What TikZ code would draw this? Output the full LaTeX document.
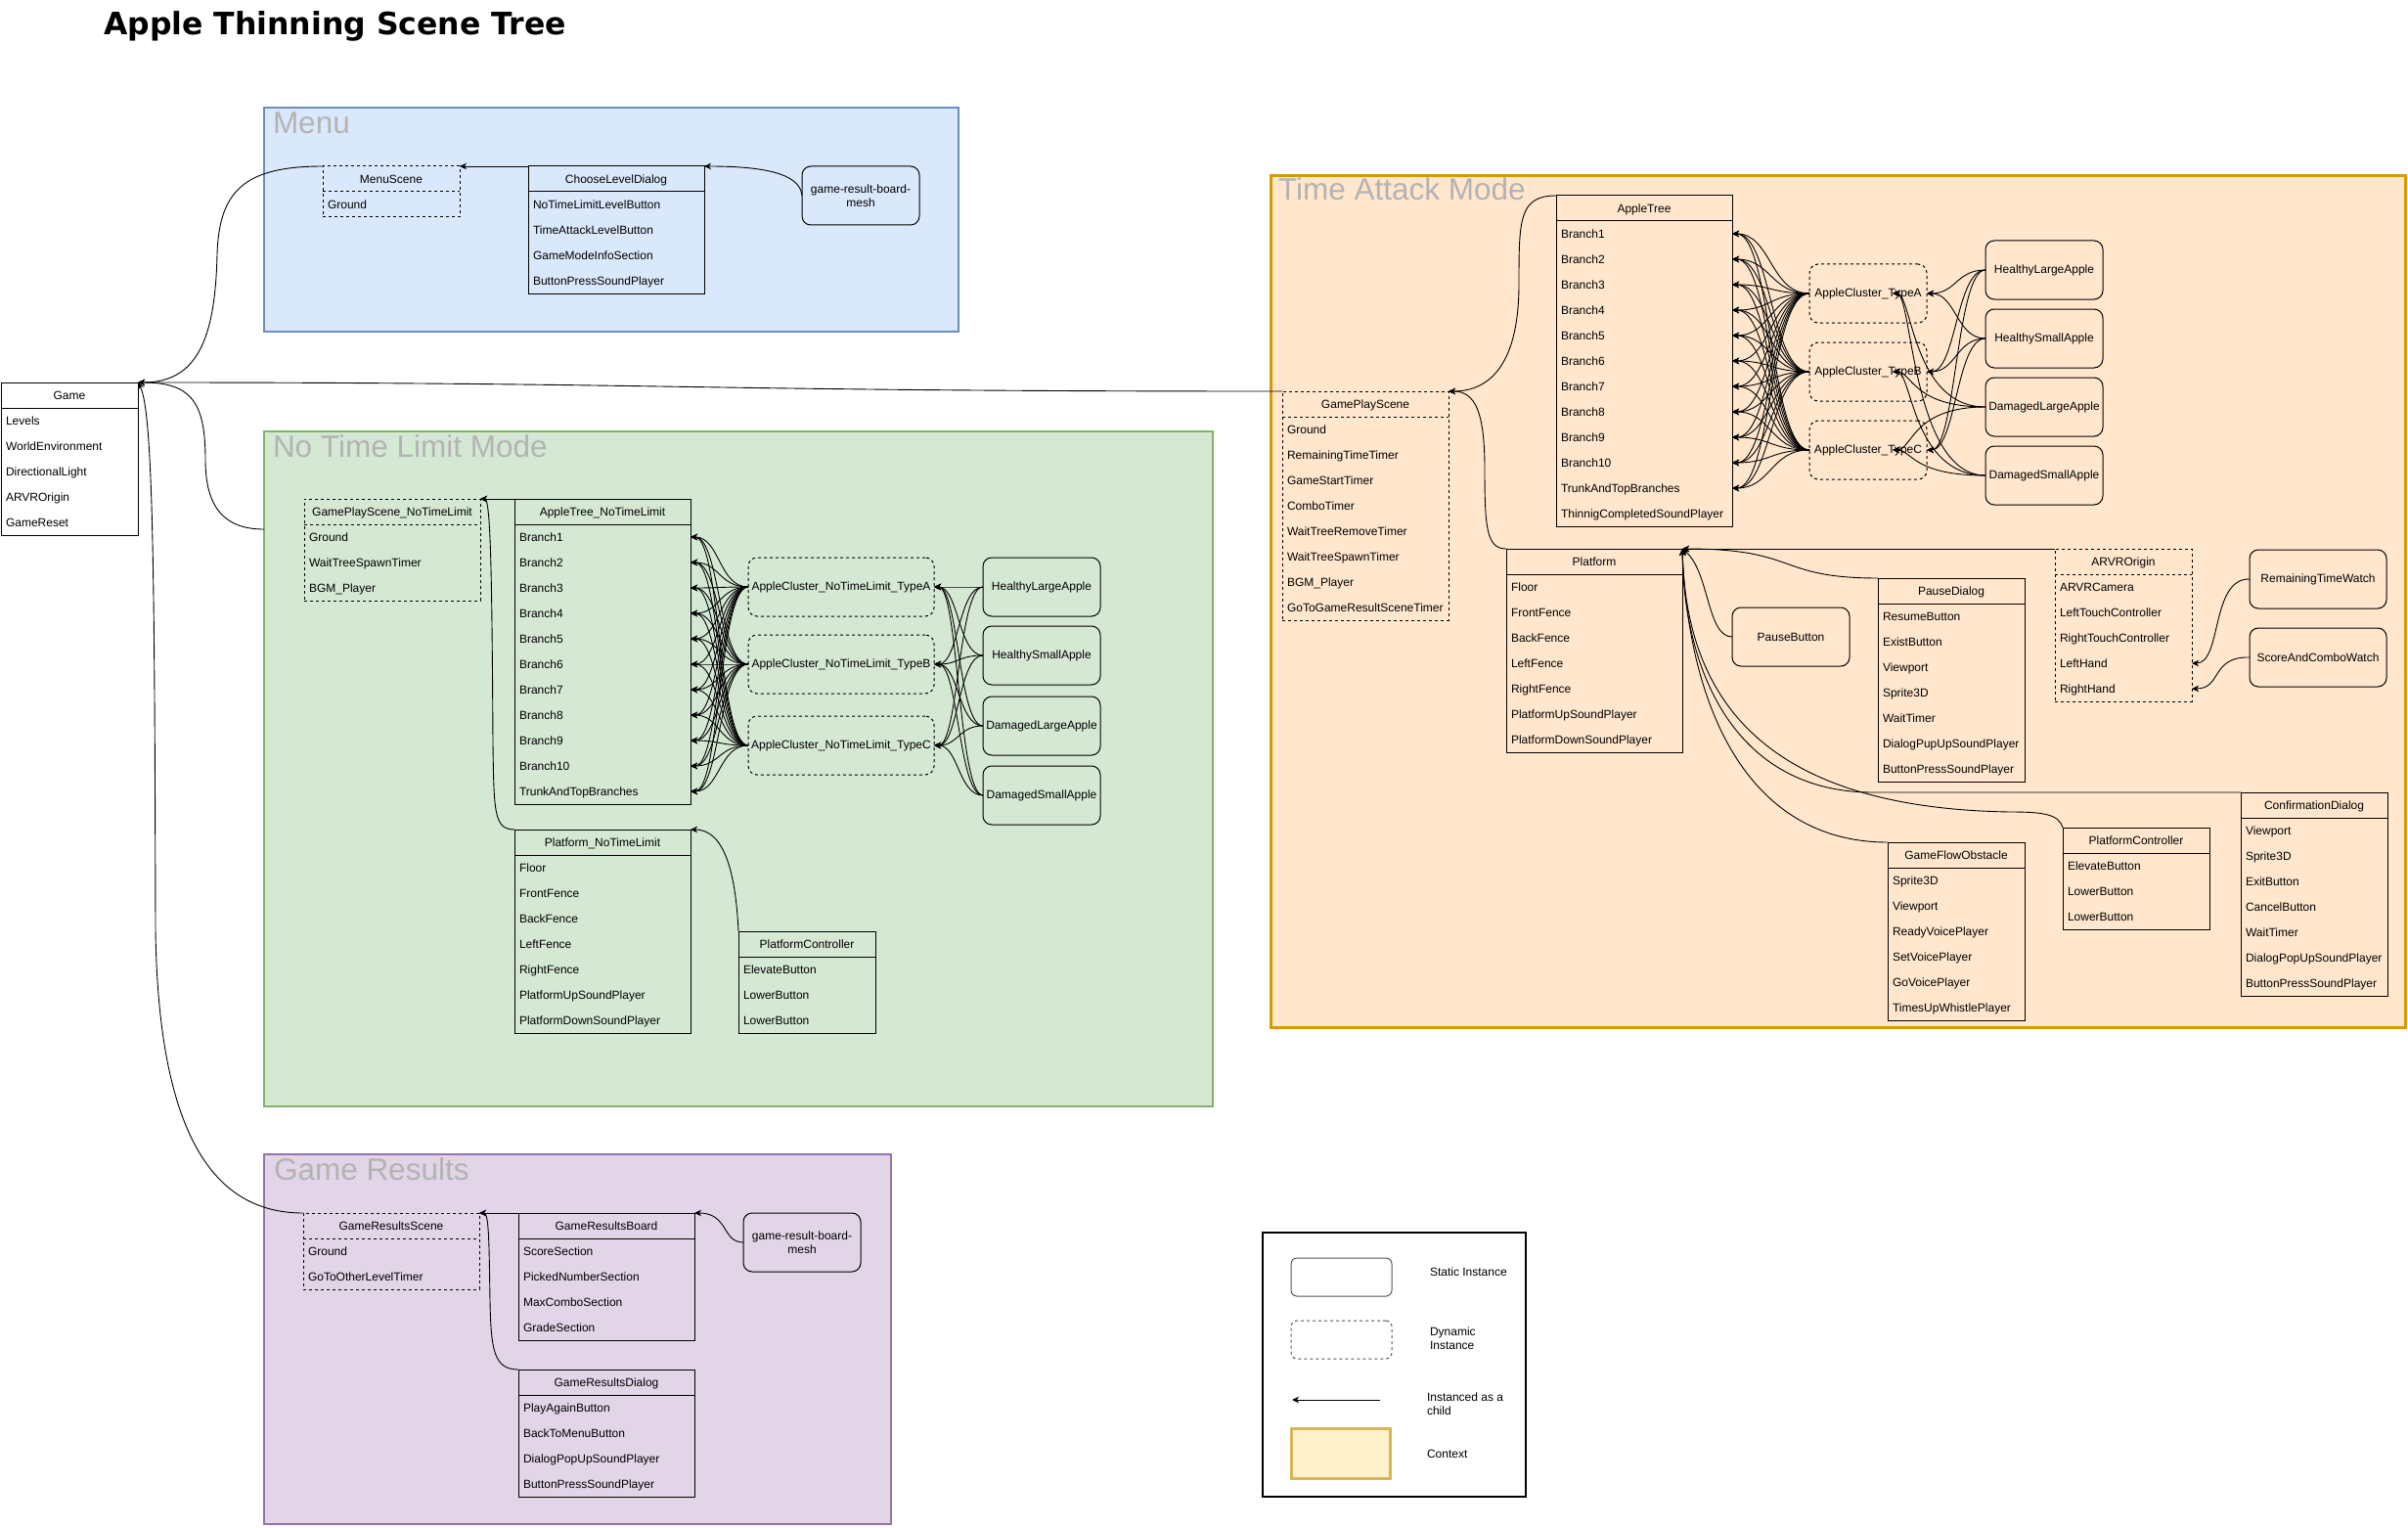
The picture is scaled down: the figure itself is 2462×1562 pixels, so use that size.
\documentclass[tikz,border=0pt]{standalone}
\usepackage{fontspec}
\setmainfont{Liberation Sans}
\newfontfamily\titlefont{DejaVu Sans}
\usetikzlibrary{arrows.meta}
\definecolor{menufill}{HTML}{DAE8FC}\definecolor{menudraw}{HTML}{6C8EBF}
\definecolor{ntlfill}{HTML}{D5E8D4}\definecolor{ntldraw}{HTML}{82B366}
\definecolor{tafill}{HTML}{FFE6CC}\definecolor{tadraw}{HTML}{D79B00}
\definecolor{grfill}{HTML}{E1D5E7}\definecolor{grdraw}{HTML}{9673A6}
\definecolor{ctxfill}{HTML}{FFF2CC}\definecolor{ctxdraw}{HTML}{D6B656}
\definecolor{ctitlegray}{HTML}{B3B3B3}
\definecolor{leggray}{HTML}{555555}
\tikzset{
  boxframe/.style={draw=black, line width=1pt, inner sep=0pt, outer sep=0pt},
  dsh/.style={dash pattern=on 3pt off 3pt},
  rowtxt/.style={inner sep=0pt, outer sep=0pt, text height=8.6pt, text depth=0pt, font=\fontsize{12}{14}\selectfont},
  rbox/.style={draw=black, line width=1pt, rounded corners=9pt, inner sep=0pt, outer sep=0pt, align=center, anchor=north west, font=\fontsize{12}{14}\selectfont},
  arr/.style={-{Stealth[length=7pt,width=6.5pt,inset=2pt]}, line width=0.9pt},
  cont/.style={inner sep=0pt, outer sep=0pt, anchor=north west},
  ctitle/.style={anchor=base west, inner sep=0pt, outer sep=0pt, text=ctitlegray, font=\fontsize{31.5}{36}\selectfont},
  legtxt/.style={inner sep=0pt, outer sep=0pt, anchor=west, align=left, font=\fontsize{12}{14}\selectfont},
}
% #1 style, #2 name, #3 x, #4 y, #5 width, #6 rows, #7 title, #8 items
\newcommand\listbox[8]{%
  \node[boxframe,#1,minimum width=#5pt,minimum height={(#6+1)*26pt},anchor=north west] (#2) at (#3,#4) {};
  \draw[line width=1pt,#1] ({#3},{#4+26}) -- ({#3+#5},{#4+26});
  \node[rowtxt,anchor=center] (#2-t) at ({#3+#5/2},{#4+13}) {#7};
  \foreach \itm [count=\k] in {#8} {%
    \node[rowtxt,anchor=west] (#2-\k) at ({#3+5},{#4+13+26*\k}) {\itm};
    \coordinate (#2-r\k) at ({#3+#5},{#4+13+26*\k});
  }%
}
\begin{document}
\begin{tikzpicture}[x=1pt,y=-1pt]
\fill[white] (0,0) rectangle (2462,1562);
\useasboundingbox (0,0) rectangle (2462,1562);

% title
\node[inner sep=0pt, anchor=base west, font=\titlefont\bfseries\fontsize{31.5}{36}\selectfont] (title) at (106,36) {Apple Thinning Scene Tree};

% containers
\node[cont, fill=menufill, draw=menudraw, line width=1.3pt, minimum width=710pt, minimum height=229pt] (menu) at (270,110) {};
\node[ctitle] (menu-l) at (279,137) {Menu};
\node[cont, fill=ntlfill, draw=ntldraw, line width=2.5pt, minimum width=970pt, minimum height=690pt] (ntl) at (270,441) {};
\node[ctitle] (ntl-l) at (279,467) {No Time Limit Mode};
\node[cont, fill=tafill, draw=tadraw, line width=3pt, minimum width=1160pt, minimum height=870pt] (ta) at (1299,180) {};
\node[ctitle] (ta-l) at (1307,205) {Time Attack Mode};
\node[cont, fill=grfill, draw=grdraw, line width=2.5pt, minimum width=641pt, minimum height=378pt] (gr) at (270,1180) {};
\node[ctitle] (gr-l) at (280,1206) {Game Results};

% Game
\listbox{}{game}{1}{391}{140}{5}{Game}{Levels,WorldEnvironment,DirectionalLight,ARVROrigin,GameReset}

% Menu
\listbox{dsh}{menuscene}{330}{170}{140}{1}{MenuScene}{Ground}
\listbox{}{choose}{540}{170}{180}{4}{ChooseLevelDialog}{NoTimeLimitLevelButton,TimeAttackLevelButton,GameModeInfoSection,ButtonPressSoundPlayer}
\node[rbox, minimum width=120pt, minimum height=60pt] (menumesh) at (820,170) {game-result-board-\\mesh};

% No time limit
\listbox{dsh}{gpsntl}{311}{510}{180}{3}{GamePlayScene\_NoTimeLimit}{Ground,WaitTreeSpawnTimer,BGM\_Player}
\listbox{}{atntl}{526}{510}{180}{11}{AppleTree\_NoTimeLimit}{Branch1,Branch2,Branch3,Branch4,Branch5,Branch6,Branch7,Branch8,Branch9,Branch10,TrunkAndTopBranches}
\listbox{}{platntl}{526}{848}{180}{7}{Platform\_NoTimeLimit}{Floor,FrontFence,BackFence,LeftFence,RightFence,PlatformUpSoundPlayer,PlatformDownSoundPlayer}
\listbox{}{pcntl}{755}{952}{140}{3}{PlatformController}{ElevateButton,LowerButton,LowerButton}
\node[rbox, dsh, minimum width=190pt, minimum height=60pt] (ntlcA) at (765,570) {AppleCluster\_NoTimeLimit\_TypeA};
\node[rbox, dsh, minimum width=190pt, minimum height=60pt] (ntlcB) at (765,649) {AppleCluster\_NoTimeLimit\_TypeB};
\node[rbox, dsh, minimum width=190pt, minimum height=60pt] (ntlcC) at (765,732) {AppleCluster\_NoTimeLimit\_TypeC};
\node[rbox, minimum width=120pt, minimum height=60pt] (ntlhla) at (1005,570) {HealthyLargeApple};
\node[rbox, minimum width=120pt, minimum height=60pt] (ntlhsa) at (1005,640) {HealthySmallApple};
\node[rbox, minimum width=120pt, minimum height=60pt] (ntldla) at (1005,712) {DamagedLargeApple};
\node[rbox, minimum width=120pt, minimum height=60pt] (ntldsa) at (1005,783) {DamagedSmallApple};
\coordinate (ntlin) at (270,541);

% Game results
\listbox{dsh}{grscene}{310}{1240}{180}{2}{GameResultsScene}{Ground,GoToOtherLevelTimer}
\listbox{}{grboard}{530}{1240}{180}{4}{GameResultsBoard}{ScoreSection,PickedNumberSection,MaxComboSection,GradeSection}
\listbox{}{grdialog}{530}{1400}{180}{4}{GameResultsDialog}{PlayAgainButton,BackToMenuButton,DialogPopUpSoundPlayer,ButtonPressSoundPlayer}
\node[rbox, minimum width=120pt, minimum height=60pt] (grmesh) at (760,1240) {game-result-board-\\mesh};

% Time attack
\listbox{dsh}{gps}{1311}{400}{170}{8}{GamePlayScene}{Ground,RemainingTimeTimer,GameStartTimer,ComboTimer,WaitTreeRemoveTimer,WaitTreeSpawnTimer,BGM\_Player,GoToGameResultSceneTimer}
\listbox{}{tat}{1591}{200}{180}{12}{AppleTree}{Branch1,Branch2,Branch3,Branch4,Branch5,Branch6,Branch7,Branch8,Branch9,Branch10,TrunkAndTopBranches,ThinnigCompletedSoundPlayer}
\node[rbox, dsh, minimum width=120pt, minimum height=60pt] (tacA) at (1850,270) {AppleCluster\_TypeA};
\node[rbox, dsh, minimum width=120pt, minimum height=60pt] (tacB) at (1850,350) {AppleCluster\_TypeB};
\node[rbox, dsh, minimum width=120pt, minimum height=60pt] (tacC) at (1850,430) {AppleCluster\_TypeC};
\node[rbox, minimum width=120pt, minimum height=60pt] (tahla) at (2030,246) {HealthyLargeApple};
\node[rbox, minimum width=120pt, minimum height=60pt] (tahsa) at (2030,316) {HealthySmallApple};
\node[rbox, minimum width=120pt, minimum height=60pt] (tadla) at (2030,386) {DamagedLargeApple};
\node[rbox, minimum width=120pt, minimum height=60pt] (tadsa) at (2030,456) {DamagedSmallApple};
\coordinate (inA) at (1935,300);
\coordinate (inB) at (1935,380);
\coordinate (inC) at (1935,460);
\listbox{}{taplat}{1540}{561}{180}{7}{Platform}{Floor,FrontFence,BackFence,LeftFence,RightFence,PlatformUpSoundPlayer,PlatformDownSoundPlayer}
\node[rbox, minimum width=120pt, minimum height=60pt] (pausebtn) at (1771,621) {PauseButton};
\listbox{}{pausedlg}{1920}{591}{150}{7}{PauseDialog}{ResumeButton,ExistButton,Viewport,Sprite3D,WaitTimer,DialogPupUpSoundPlayer,ButtonPressSoundPlayer}
\listbox{dsh}{arvr}{2101}{561}{140}{5}{ARVROrigin}{ARVRCamera,LeftTouchController,RightTouchController,LeftHand,RightHand}
\node[rbox, minimum width=140pt, minimum height=60pt] (rtw) at (2300,562) {RemainingTimeWatch};
\node[rbox, minimum width=140pt, minimum height=60pt] (scw) at (2300,642) {ScoreAndComboWatch};
\listbox{}{gfo}{1930}{861}{140}{6}{GameFlowObstacle}{Sprite3D,Viewport,ReadyVoicePlayer,SetVoicePlayer,GoVoicePlayer,TimesUpWhistlePlayer}
\listbox{}{tapc}{2109}{846}{150}{3}{PlatformController}{ElevateButton,LowerButton,LowerButton}
\listbox{}{confirm}{2291}{810}{150}{7}{ConfirmationDialog}{Viewport,Sprite3D,ExitButton,CancelButton,WaitTimer,DialogPopUpSoundPlayer,ButtonPressSoundPlayer}

% ---- connectors ----
% to Game
\draw[arr] (menuscene.north west) .. controls (250,170) and (224,195) .. (222,260) .. controls (220,350) and (200,391) .. (game.north east);
\draw[arr] (ntlin) .. controls (235,541) and (210,525) .. (210,470) .. controls (210,410) and (195,391) .. (game.north east);
\draw[arr] (grscene.north west) .. controls (230,1240) and (162,1180) .. (159,950) .. controls (158,600) and (157,420) .. (game.north east);
\draw[arr] (gps.north west) .. controls (700,400) and (700,391) .. (game.north east);

% Menu
\draw[arr] (choose.north west) -- (menuscene.north east);
\draw[arr] (menumesh.west) .. controls (818,180) and (790,170) .. (choose.north east);

% No time limit
\draw[arr] (atntl.north west) -- (gpsntl.north east);
\draw[arr] (platntl.north west) .. controls (505,848) and (505,830) .. (504,760) .. controls (503,600) and (502,510) .. (gpsntl.north east);
\draw[arr] (pcntl.north west) .. controls (752,890) and (740,848) .. (platntl.north east);
\foreach \c in {A,B,C} {
  \foreach \k in {1,...,11} {
    \draw[arr] (ntlc\c.west) .. controls +(-30,0) and +(30,0) .. (atntl-r\k);
  }
}
\foreach \a in {hla,hsa,dla,dsa} {
  \foreach \c in {A,B,C} {
    \draw[arr] (ntl\a.west) .. controls +(-25,0) and +(25,0) .. (ntlc\c.east);
  }
}

% Game results
\draw[arr] (grboard.north west) -- (grscene.north east);
\draw[arr] (grdialog.north west) .. controls (505,1400) and (502,1380) .. (501,1330) .. controls (500,1270) and (500,1240) .. (grscene.north east);
\draw[arr] (grmesh.west) .. controls (738,1270) and (745,1240) .. (grboard.north east);

% Time attack
\draw[arr] (tat.north west) .. controls (1553,200) and (1553,225) .. (1553,290) .. controls (1553,370) and (1525,400) .. (gps.north east);
\draw[arr] (taplat.north west) .. controls (1520,561) and (1518,540) .. (1518,480) .. controls (1518,420) and (1508,400) .. (gps.north east);
\foreach \c in {A,B,C} {
  \foreach \k in {1,...,11} {
    \draw[arr] (tac\c.west) .. controls +(-40,0) and +(40,0) .. (tat-r\k);
  }
}
\foreach \a in {hla,hsa} {
  \foreach \c in {A,B,C} {
    \draw[arr] (ta\a.west) .. controls +(-30,0) and +(30,0) .. (tac\c.east);
  }
}
\foreach \a in {dla,dsa} {
  \foreach \c in {A,B,C} {
    \draw[arr] (ta\a.west) .. controls +(-75,0) and +(20,0) .. (in\c);
  }
}
\draw[arr] (pausebtn.west) .. controls (1745,651) and (1748,585) .. (taplat.north east);
\draw[arr] (pausedlg.north west) .. controls (1815,591) and (1840,561) .. (taplat.north east);
\draw[arr] (arvr.north west) -- (taplat.north east);
\draw[arr] (gfo.north west) .. controls (1785,861) and (1726,720) .. (taplat.north east);
\draw[arr] (tapc.north west) .. controls (2105,832) and (2088,830) .. (2055,830) .. controls (1798,826) and (1724,710) .. (taplat.north east);
\draw[arr] (confirm.north west) -- (1915,810) .. controls (1776,810) and (1722,690) .. (taplat.north east);
\draw[arr] (rtw.west) .. controls (2260,591) and (2272,678) .. (arvr-r4);
\draw[arr] (scw.west) .. controls (2260,671) and (2272,704) .. (arvr-r5);

% Legend
\node[cont, draw=black, line width=1.2pt, minimum width=269pt, minimum height=270pt] (legend) at (1291,1260) {};
\node[rbox, draw=leggray, rounded corners=6pt, minimum width=103pt, minimum height=39pt] (legstatic) at (1320,1286) {};
\node[rbox, draw=leggray, dsh, rounded corners=6pt, minimum width=103pt, minimum height=39pt] (legdyn) at (1320,1350) {};
\coordinate (legA) at (1411,1431);
\coordinate (legB) at (1321,1431);
\draw[arr] (legA) -- (legB);
\node[cont, fill=ctxfill, draw=ctxdraw, line width=3pt, minimum width=101pt, minimum height=51pt] (legctx) at (1320,1460) {};
\node[legtxt] (legt1) at (1462,1300) {Static Instance};
\node[legtxt] (legt2) at (1462,1368) {Dynamic\\Instance};
\node[legtxt] (legt3) at (1459,1435) {Instanced as a\\child};
\node[legtxt] (legt4) at (1459,1486) {Context};
\end{tikzpicture}
\end{document}
